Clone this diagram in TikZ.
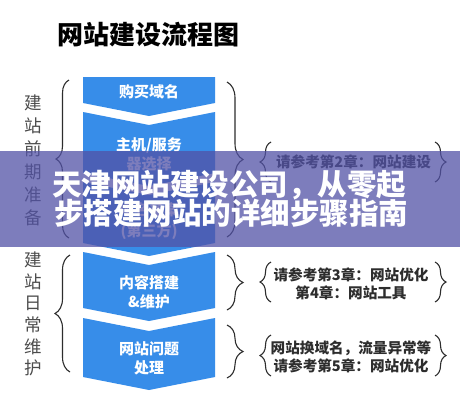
\documentclass[tikz,border=0pt]{standalone}
\usepackage{fontspec}
\newfontfamily\cjk{Noto Sans CJK SC}
\usetikzlibrary{decorations.pathreplacing}
\definecolor{boxblue}{RGB}{55,141,233}
\definecolor{bandc}{RGB}{82,82,166}
\definecolor{ink}{RGB}{45,45,45}
\tikzset{
  chev/.style={fill=boxblue, draw=none},
  boxtxt/.style={text=white, font=\cjk\bfseries\fontsize{15}{19}\selectfont, align=center, inner sep=0pt},
  vlabel/.style={text=ink!85, font=\cjk\fontsize{17.5}{23}\selectfont, inner sep=0pt, align=center},
  brc/.style={draw=ink, line width=1.1pt, decorate, decoration={brace, amplitude=#1}},
  brc/.default=10pt,
  notetxt/.style={text=ink, font=\cjk\bfseries\fontsize{14.6}{18}\selectfont, align=center, inner sep=0pt},
  bandtxt/.style={text=white, font=\cjk\bfseries\fontsize{29.5}{30}\selectfont, inner sep=0pt},
}
\begin{document}
\begin{tikzpicture}[x=1pt,y=-1pt]
\useasboundingbox (0,0) rectangle (460,400);
\fill[white] (0,0) rectangle (460,400);

% title
\node[font=\cjk\bfseries\fontsize{26}{30}\selectfont, text=black, inner sep=0pt] (title) at (148.5,35) {网站建设流程图};

% chevrons
\fill[chev] (83,77) -- (215,77) -- (215,103) -- (149,116) -- (83,103) -- cycle;
\fill[chev] (83,112) -- (149,125) -- (215,112) -- (215,173) -- (149,186) -- (83,173) -- cycle;
\fill[chev] (83,182) -- (149,195) -- (215,182) -- (215,243) -- (149,256) -- (83,243) -- cycle;
\fill[chev] (83,252) -- (149,265) -- (215,252) -- (215,308) -- (149,321) -- (83,308) -- cycle;
\fill[chev] (83,318) -- (149,331) -- (215,318) -- (215,377) -- (149,390) -- (83,377) -- cycle;

\node[boxtxt] (b1) at (149,92) {购买域名};
\node[boxtxt] (b2) at (149,154) {主机/服务\\器选择};
\node[boxtxt, font=\cjk\bfseries\fontsize{15}{21}\selectfont] (b3) at (149,221) {域名备案\\(第三方)};
\node[boxtxt] (b4) at (149,292.5) {内容搭建\\\&维护};
\node[boxtxt] (b5) at (149,358) {网站问题\\处理};

% vertical labels
\node[vlabel] (g1) at (33,160.5) {建\\站\\前\\期\\准\\备};
\node[vlabel, font=\cjk\fontsize{17.5}{21.6}\selectfont] (g2) at (33,314) {建\\站\\日\\常\\维\\护};

% left group braces
\coordinate (l1t) at (69,80);
\coordinate (l1b) at (69,238);
\coordinate (l2t) at (70,255);
\coordinate (l2b) at (70,372);
\draw[brc=13pt] (l1b) -- (l1t);
\draw[brc=15pt] (l2b) -- (l2t);

% right group braces
\coordinate (r1t) at (227,82);
\coordinate (r1b) at (227,237);
\coordinate (r2t) at (227,255);
\coordinate (r2b) at (227,310);
\coordinate (r3t) at (227,325);
\coordinate (r3b) at (227,378);
\draw[brc=16pt] (r1t) -- (r1b);
\draw[brc=16pt] (r2t) -- (r2b);
\draw[brc=16pt] (r3t) -- (r3b);

% notes
\node[notetxt] (n1) at (353.5,162) {请参考第2章：网站建设};
\node[notetxt] (n2) at (351,284) {请参考第3章：网站优化\\第4章：网站工具};
\node[notetxt] (n3) at (351,356.5) {网站换域名，流量异常等\\请参考第5章：网站优化};

\coordinate (s1t) at (271,142);
\coordinate (s1b) at (271,182);
\coordinate (s2t) at (271,262);
\coordinate (s2b) at (271,302);
\coordinate (s3t) at (271,335);
\coordinate (s3b) at (271,376);
\draw[brc=11pt] (s1b) -- (s1t);
\draw[brc=11pt] (s2b) -- (s2t);
\draw[brc=11pt] (s3b) -- (s3t);
\coordinate (t1t) at (435,142);
\coordinate (t1b) at (435,182);
\coordinate (t2t) at (435,262);
\coordinate (t2b) at (435,302);
\coordinate (t3t) at (435,335);
\coordinate (t3b) at (435,376);
\draw[brc=11pt] (t1t) -- (t1b);
\draw[brc=11pt] (t2t) -- (t2b);
\draw[brc=11pt] (t3t) -- (t3b);

% overlay band
\fill[bandc, opacity=0.75] (0,151) rectangle (460,247);
\node[bandtxt] (o1) at (229,185) {天津网站建设公司，从零起};
\node[bandtxt] (o2) at (231,213) {步搭建网站的详细步骤指南};
\end{tikzpicture}
\end{document}
